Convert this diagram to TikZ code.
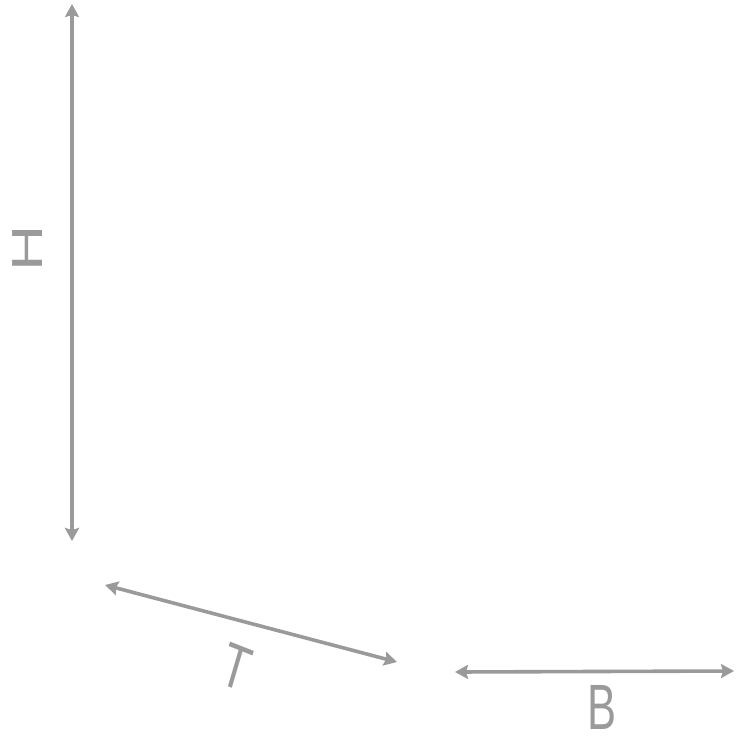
\documentclass[tikz,border=0pt]{standalone}
\usepackage{fontspec}
\setmainfont{Liberation Sans}
\usetikzlibrary{arrows.meta}
\definecolor{dimgray}{HTML}{9A9A9A}
\tikzset{
  dimline/.style={draw=dimgray, line width=3.6pt, {Stealth[length=13pt,width=14pt,inset=2pt]}-{Stealth[length=13pt,width=14pt,inset=2pt]}},
  dimlabel/.style={text=dimgray, font=\fontsize{64}{64}\selectfont, inner sep=0pt, xscale=0.68}
}
\begin{document}
\begin{tikzpicture}[x=1pt,y=1pt]
\useasboundingbox (0,0) rectangle (736,-736);
\coordinate (h1) at (72,-4);
\coordinate (h2) at (72,-541);
\coordinate (t1) at (105,-585);
\coordinate (t2) at (397,-662);
\coordinate (b1) at (455,-672);
\coordinate (b2) at (734,-671);
\draw[dimline] (h1) -- (h2);
\draw[dimline] (t1) -- (t2);
\draw[dimline] (b1) -- (b2);
\node[dimlabel, rotate=90] (H) at (28,-248) {H};
\node[dimlabel, rotate=-15, xslant=0.15] (T) at (236,-667) {T};
\node[dimlabel] (B) at (602,-707) {B};
\end{tikzpicture}
\end{document}
